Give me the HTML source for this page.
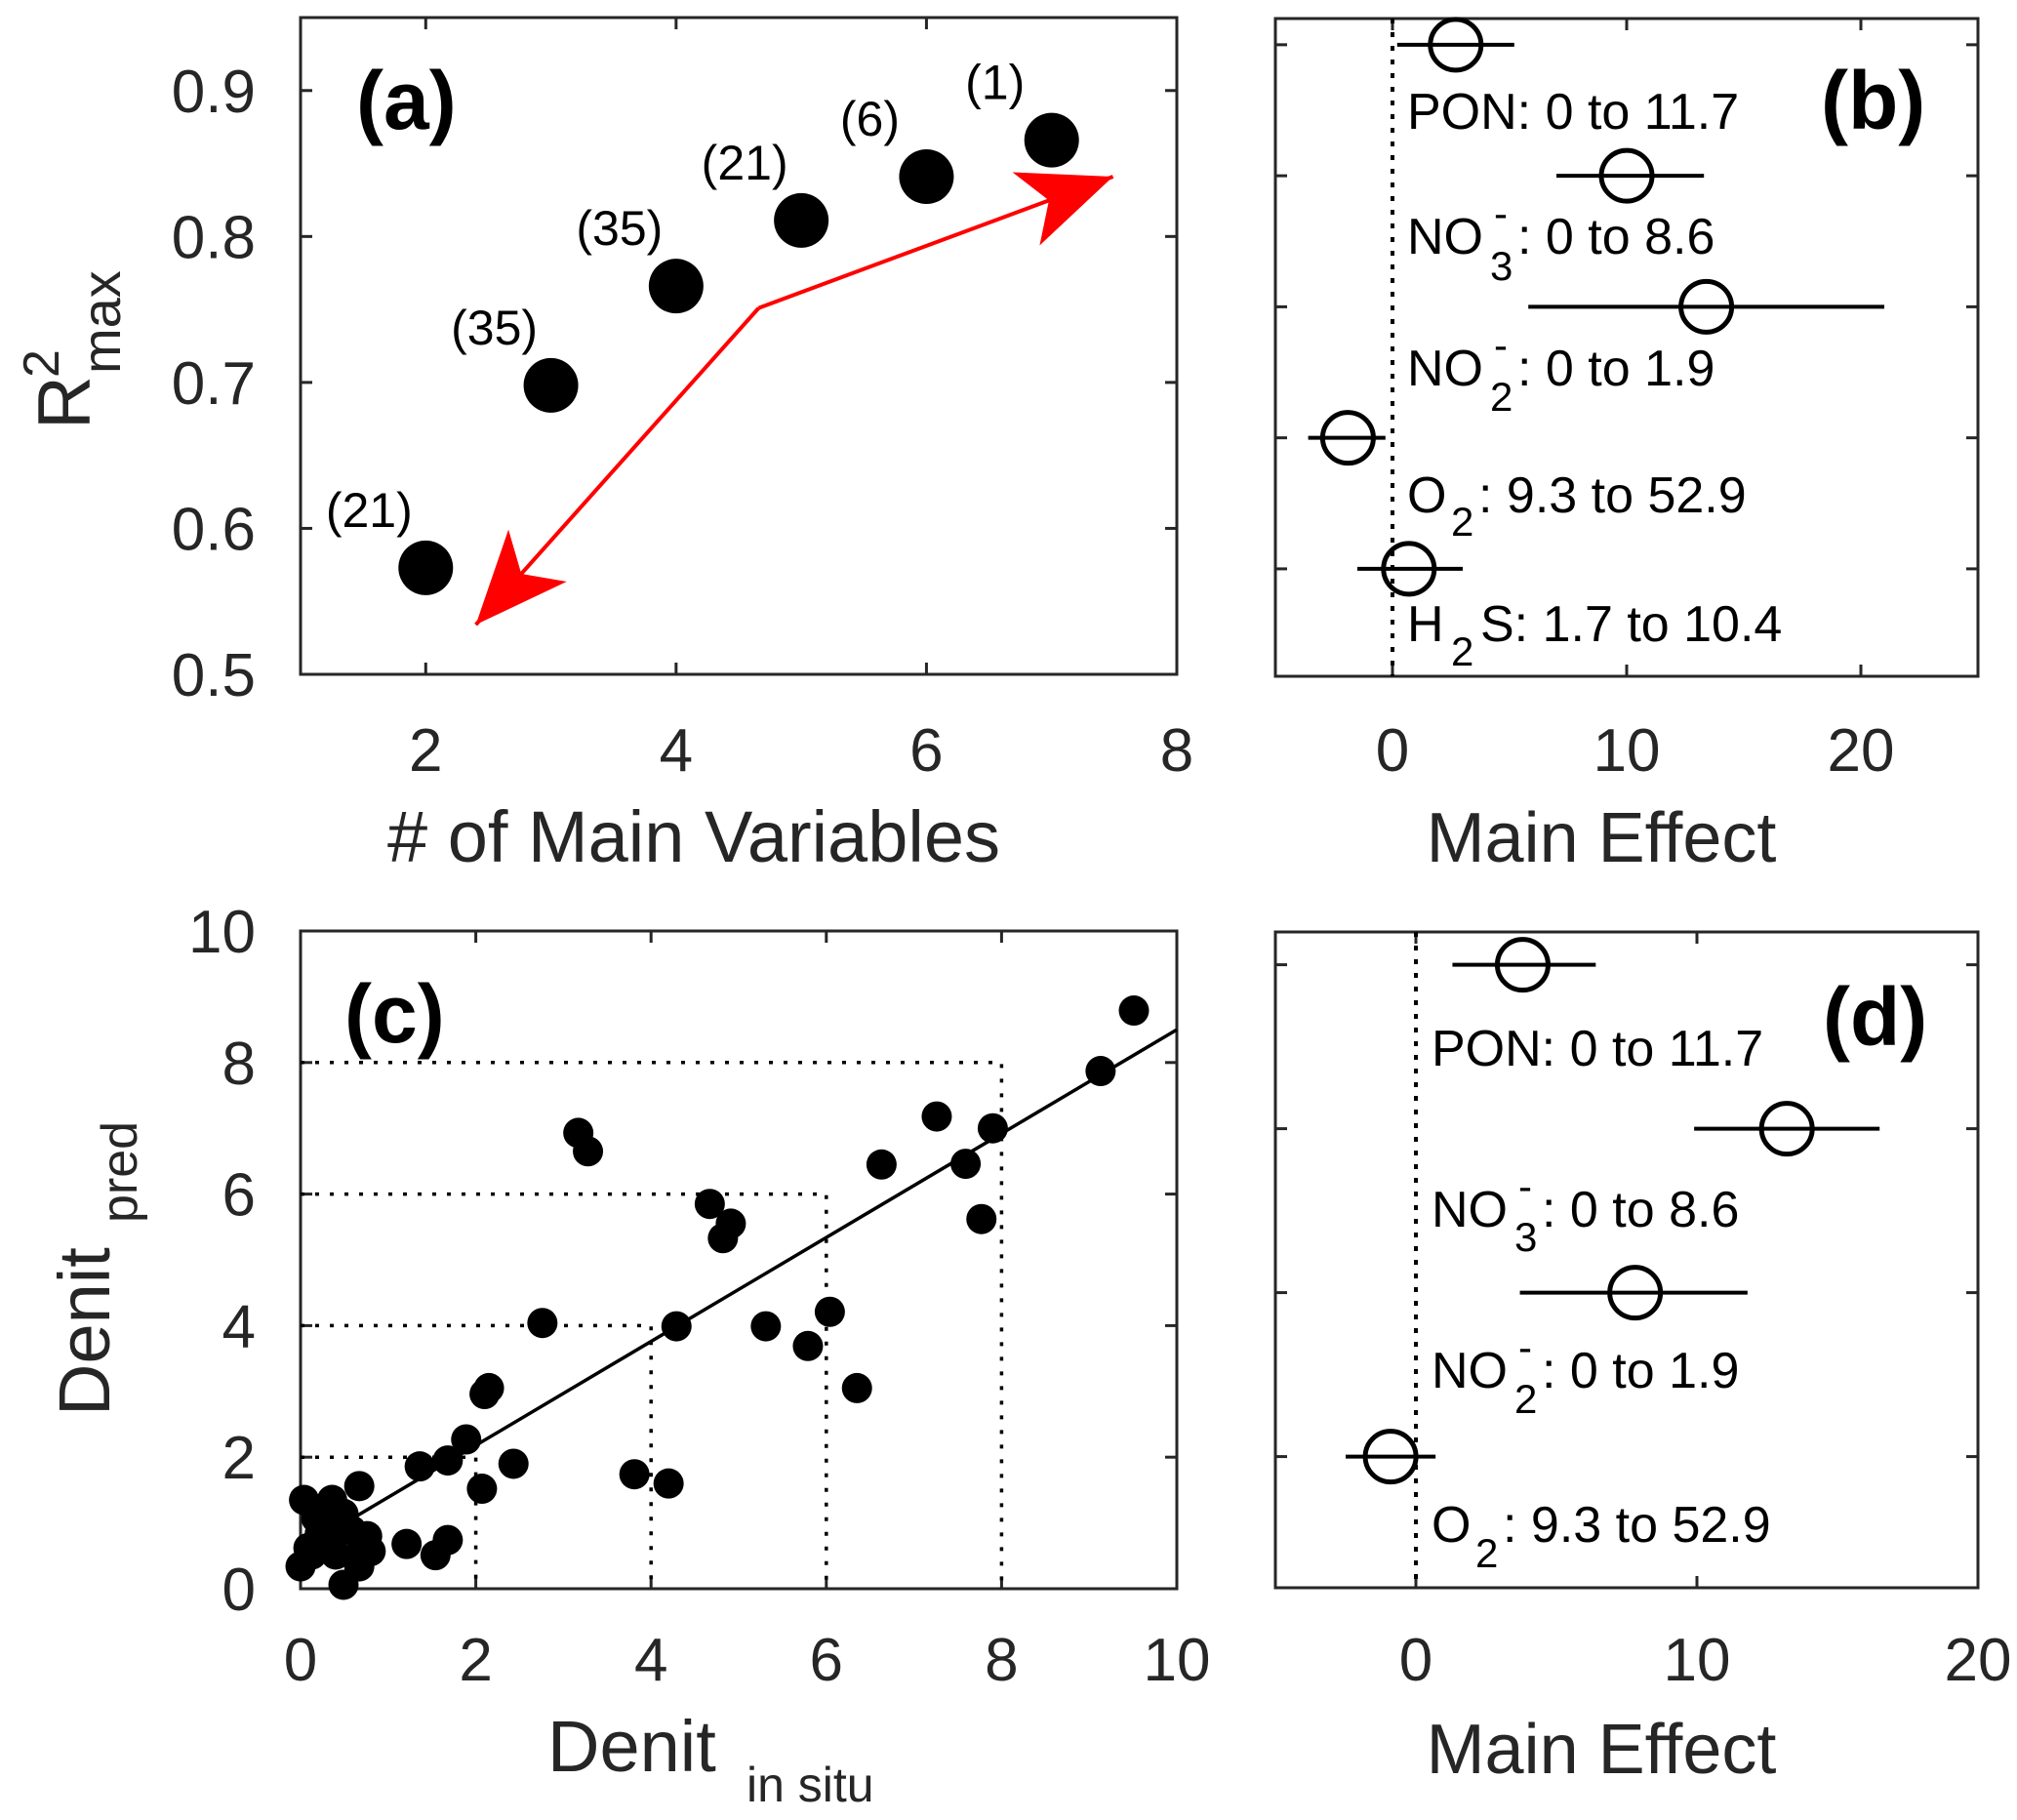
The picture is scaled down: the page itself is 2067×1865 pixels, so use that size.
<!DOCTYPE html>
<html><head><meta charset="utf-8"><style>
html,body{margin:0;padding:0;background:#fff;}
svg{display:block;font-family:"Liberation Sans",Arial,sans-serif;}
</style></head><body>
<svg id="fig" width="2067" height="1865" viewBox="0 0 2067 1865" xmlns="http://www.w3.org/2000/svg"></svg>
<script>
// ---- Panel (a) data ----
const aVars = [2, 3, 4, 5, 6, 7];
const aR2 = [0.573, 0.698, 0.766, 0.811, 0.841, 0.866];
const aCounts = ["(21)", "(35)", "(35)", "(21)", "(6)", "(1)"];
const aXTicks = [2, 4, 6, 8];
const aYTicks = [0.5, 0.6, 0.7, 0.8, 0.9];
const aArrowVertex = [4.66, 0.751];
const aArrowTips = [[7.49, 0.841], [2.40, 0.534]];
// ---- Panel (b) data ----
const bCats = ["PON", "NO3", "NO2", "O2", "H2S"];
const bEffect = [2.7, 10.0, 13.4, -1.9, 0.7];
const bLow = [0.2, 7.0, 5.8, -3.6, -1.5];
const bHigh = [5.2, 13.3, 21.0, -0.3, 3.0];
const bXTicks = [0, 10, 20];
// ---- Panel (c) data ----
const cInSitu = [9.51,9.13,7.26,7.90,7.59,7.77,6.63,3.17,3.28,4.67,4.91,4.82,4.29,5.31,6.04,5.79,6.35,2.76,2.15,2.10,1.89,2.43,1.68,1.36,2.07,3.81,4.20,0.67,1.21,1.54,1.68,0.04,0.36,0.49,0.00,0.09,0.22,0.31,0.40,0.49,0.67,0.76,0.80,0.58,0.18,0.40,0.67,0.13];
const cPred   = [8.79,7.87,7.18,7.00,6.46,5.62,6.45,6.93,6.65,5.85,5.55,5.33,3.99,3.99,4.21,3.69,3.05,4.04,3.05,2.96,2.27,1.90,1.95,1.86,1.52,1.74,1.60,1.56,0.68,0.51,0.74,1.35,1.35,1.14,0.34,0.62,0.84,0.71,0.52,0.06,0.34,0.80,0.57,0.89,1.07,0.98,0.52,0.52];
const cFit = [0.6, 0.79]; // intercept, slope
const cGuides = [2, 4, 6, 8];
const cTicks = [0, 2, 4, 6, 8, 10];
// ---- Panel (d) data ----
const dCats = ["PON", "NO3", "NO2", "O2"];
const dEffect = [3.8, 13.2, 7.8, -0.9];
const dLow = [1.3, 9.9, 3.7, -2.5];
const dHigh = [6.4, 16.5, 11.8, 0.7];
const dXTicks = [0, 10, 20];

const NS = "http://www.w3.org/2000/svg";
const svg = document.getElementById("fig");
const AX = "#262626";
const TFS = 62;
function mk(tag, attrs, parent, text) {
  const e = document.createElementNS(NS, tag);
  for (const k in attrs) e.setAttribute(k, attrs[k]);
  if (text !== undefined) e.textContent = text;
  (parent || svg).appendChild(e);
  return e;
}
function lin(d0, d1, p0, p1) { return v => p0 + (v - d0) * (p1 - p0) / (d1 - d0); }

function frame(g, L, T, R, B) {
  const f = mk("rect", {x: L, y: T, width: R - L, height: B - T, fill: "none", stroke: AX, "stroke-width": 3}, g);
  
  
}
function xtick(g, x, T, B, label, lblY) {
  mk("line", {x1: x, y1: B, x2: x, y2: B - 12, stroke: AX, "stroke-width": 3}, g);
  mk("line", {x1: x, y1: T, x2: x, y2: T + 12, stroke: AX, "stroke-width": 3}, g);
  if (label !== null) {
    const t = mk("text", {x: x, y: lblY, "text-anchor": "middle", "font-size": TFS, fill: AX}, g, label);
    
    
  }
}
function ytick(g, y, L, R, label, lblX) {
  mk("line", {x1: L, y1: y, x2: L + 12, y2: y, stroke: AX, "stroke-width": 3}, g);
  mk("line", {x1: R, y1: y, x2: R - 12, y2: y, stroke: AX, "stroke-width": 3}, g);
  if (label !== null) {
    const t = mk("text", {x: lblX, y: y + 22, "text-anchor": "end", "font-size": TFS, fill: AX}, g, label);
    
    
  }
}
function arrowHead(g, from, tip) {
  const dx = tip[0] - from[0], dy = tip[1] - from[1], l = Math.hypot(dx, dy);
  const ux = dx / l, uy = dy / l, px = -uy, py = ux;
  const len = 95, hw = 40, notch = 70;
  const b = [tip[0] - ux * len, tip[1] - uy * len];
  const n = [tip[0] - ux * notch, tip[1] - uy * notch];
  const pts = [tip, [b[0] + px * hw, b[1] + py * hw], n, [b[0] - px * hw, b[1] - py * hw]];
  const p = mk("polygon", {points: pts.map(q => q.join(",")).join(" "), fill: "#ff0000"}, g);
  
  
}

// ================= Panel (a) =================
(function () {
  const L = 308, R = 1206, T = 18, B = 691;
  const x = lin(1, 8, L, R), y = lin(0.5, 0.95, B, T);
  const g = mk("g", {});
  
  
  frame(g, L, T, R, B);
  aXTicks.forEach(v => xtick(g, x(v), T, B, String(v), 790));
  aYTicks.forEach(v => ytick(g, y(v), L, R, v.toFixed(1), 262));
  const vtx = [x(aArrowVertex[0]), y(aArrowVertex[1])];
  aArrowTips.forEach(tp => {
    const tip = [x(tp[0]), y(tp[1])];
    const ln = mk("line", {x1: vtx[0], y1: vtx[1], x2: tip[0], y2: tip[1], stroke: "#ff0000", "stroke-width": 4}, g);
    
    
    arrowHead(g, vtx, tip);
  });
  aVars.forEach((v, i) => {
    const c = mk("circle", {cx: x(v), cy: y(aR2[i]), r: 28, fill: "#000"}, g);
    
    
    const t = mk("text", {x: x(v) - 58, y: y(aR2[i]) - 42, "text-anchor": "middle", "font-size": 50, fill: "#000"}, g, aCounts[i]);
    
    
  });
  const pl = mk("text", {x: 365, y: 132, "font-size": 84, "font-weight": "bold", fill: "#000"}, g, "(a)");
  
  
  const xt = mk("text", {x: 711, y: 883, "text-anchor": "middle", "font-size": 74, fill: AX}, g, "# of Main Variables");
  
  
  const yt = mk("g", {transform: "translate(92,440) rotate(-90)"}, g);
  
  
  mk("text", {x: 0, y: 0, "font-size": 76, fill: AX}, yt, "R");
  mk("text", {x: 53, y: -32, "font-size": 52, fill: AX}, yt, "2");
  mk("text", {x: 57, y: 31, "font-size": 56, fill: AX}, yt, "max");
})();

// ================= effect panels =================
function effectPanel(name, T, B, xmin, xmax, ymin, ymax, cats, eff, lo, hi, ticks, labelSpecs, tagX, tagY, tagText, tickLblY, titleY) {
  const L = 1307, R = 2027;
  const x = lin(xmin, xmax, L, R), y = lin(ymin, ymax, T, B);
  const g = mk("g", {});
  
  
  frame(g, L, T, R, B);
  ticks.forEach(v => xtick(g, x(v), T, B, String(v), tickLblY));
  cats.forEach((c, i) => ytick(g, y(i + 1), L, R, null, 0));
  const z = mk("line", {x1: x(0), y1: T, x2: x(0), y2: B, stroke: "#000", "stroke-width": 4, "stroke-dasharray": "5 9"}, g);
  
  
  cats.forEach((c, i) => {
    const yy = y(i + 1);
    const e = mk("line", {x1: x(lo[i]), y1: yy, x2: x(hi[i]), y2: yy, stroke: "#000", "stroke-width": 4}, g);
    
    
    const m = mk("circle", {cx: x(eff[i]), cy: yy, r: 26, fill: "none", stroke: "#000", "stroke-width": 5}, g);
    
    
  });
  labelSpecs.forEach(s => {
    const lg = mk("g", {}, g);
    
    
    s.forEach(p => mk("text", {x: p[0], y: p[1], "font-size": p[3] || 52, fill: "#000"}, lg, p[2]));
  });
  const t = mk("text", {x: tagX, y: tagY, "font-size": 84, "font-weight": "bold", fill: "#000"}, g, tagText);
  
  
  const xt = mk("text", {x: 1641, y: titleY, "text-anchor": "middle", "font-size": 72, fill: AX}, g, "Main Effect");
  
  
}

effectPanel("panel-b", 19, 693, -5, 25, 0.8, 5.82, bCats, bEffect, bLow, bHigh, bXTicks, [
  [[1442, 132, "PON: 0 to 11.7"]],
  [[1442, 260, "NO"], [1531, 233, "-", 42], [1527, 287, "3", 42], [1555, 260, ": 0 to 8.6"]],
  [[1442, 395, "NO"], [1531, 368, "-", 42], [1527, 421, "2", 42], [1555, 395, ": 0 to 1.9"]],
  [[1442, 525, "O"], [1487, 549, "2", 42], [1515, 525, ": 9.3 to 52.9"]],
  [[1442, 657, "H"], [1487, 682, "2", 42], [1517, 657, "S: 1.7 to 10.4"]]
], 1866, 132, "(b)", 790, 883);

effectPanel("panel-d", 955, 1627, -5, 20, 0.8, 4.8, dCats, dEffect, dLow, dHigh, dXTicks, [
  [[1467, 1092, "PON: 0 to 11.7"]],
  [[1467, 1257, "NO"], [1556, 1230, "-", 42], [1552, 1282, "3", 42], [1580, 1257, ": 0 to 8.6"]],
  [[1467, 1422, "NO"], [1556, 1395, "-", 42], [1552, 1448, "2", 42], [1580, 1422, ": 0 to 1.9"]],
  [[1467, 1580, "O"], [1512, 1606, "2", 42], [1540, 1580, ": 9.3 to 52.9"]]
], 1868, 1071, "(d)", 1722, 1817);

// ================= Panel (c) =================
(function () {
  const L = 308, R = 1206, T = 954, B = 1628;
  const x = lin(0, 10, L, R), y = lin(0, 10, B, T);
  const g = mk("g", {});
  
  
  frame(g, L, T, R, B);
  cTicks.forEach(v => xtick(g, x(v), T, B, String(v), 1722));
  cTicks.forEach(v => ytick(g, y(v), L, R, String(v), 262));
  cGuides.forEach(k => {
    const p = mk("path", {d: `M${x(0)},${y(k)} L${x(k)},${y(k)} L${x(k)},${y(0)}`, fill: "none", stroke: "#000", "stroke-width": 3.5, "stroke-dasharray": "4 11"}, g);
    
    
  });
  const fl = mk("line", {x1: x(0.6), y1: y(cFit[0] + cFit[1] * 0.6), x2: x(10), y2: y(cFit[0] + cFit[1] * 10), stroke: "#000", "stroke-width": 3.5}, g);
  
  
  cInSitu.forEach((v, i) => {
    const c = mk("circle", {cx: x(v), cy: y(cPred[i]), r: 15.5, fill: "#000"}, g);
    
    
  });
  const pl = mk("text", {x: 353, y: 1068, "font-size": 84, "font-weight": "bold", fill: "#000"}, g, "(c)");
  
  
  const xt = mk("g", {}, g);
  
  
  mk("text", {x: 561, y: 1815, "font-size": 74, fill: AX}, xt, "Denit");
  mk("text", {x: 765, y: 1846, "font-size": 50, fill: AX}, xt, "in situ");
  const yt = mk("g", {transform: "translate(112,1451) rotate(-90)"}, g);
  
  
  mk("text", {x: 0, y: 0, "font-size": 74, fill: AX}, yt, "Denit");
  mk("text", {x: 198, y: 28, "font-size": 52, fill: AX}, yt, "pred");
})();
</script>
</body></html>
